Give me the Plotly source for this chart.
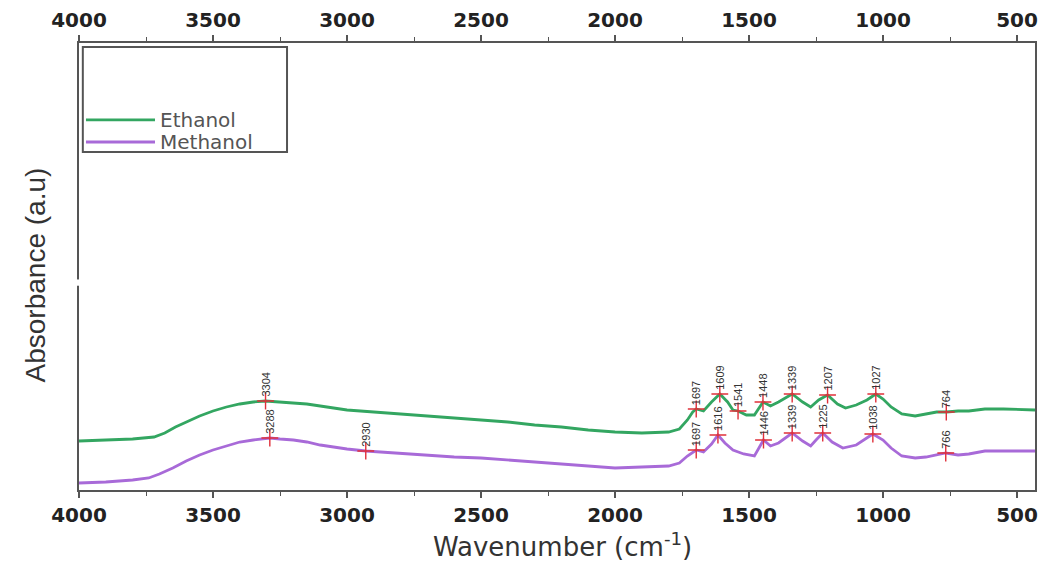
import plotly.graph_objects as go
import numpy as np

# ---- data ----
ethanol_wn = [4000, 3900, 3800, 3720, 3680, 3640, 3600, 3550, 3500, 3450, 3400, 3350, 3304, 3250, 3200,
              3150, 3100, 3050, 3000, 2950, 2900, 2800, 2700, 2600, 2500, 2400, 2300, 2200, 2100, 2000,
              1900, 1800, 1760, 1730, 1710, 1697, 1670, 1640, 1609, 1580, 1560, 1541, 1510, 1480, 1448,
              1420, 1390, 1339, 1300, 1270, 1240, 1207, 1170, 1140, 1100, 1060, 1027, 1000, 970, 930,
              880, 840, 800, 764, 720, 680, 620, 550, 480, 433]
ethanol_abs = [0.49, 0.50, 0.51, 0.53, 0.57, 0.63, 0.68, 0.74, 0.79, 0.83, 0.86, 0.88, 0.89, 0.88, 0.87,
               0.86, 0.84, 0.82, 0.80, 0.79, 0.78, 0.76, 0.74, 0.72, 0.70, 0.68, 0.65, 0.63, 0.60, 0.58,
               0.57, 0.58, 0.61, 0.70, 0.78, 0.81, 0.79, 0.88, 0.96, 0.88, 0.80, 0.79, 0.75, 0.75, 0.88,
               0.84, 0.88, 0.96, 0.88, 0.83, 0.90, 0.95, 0.86, 0.82, 0.85, 0.90, 0.96, 0.91, 0.83, 0.76,
               0.74, 0.76, 0.78, 0.78, 0.79, 0.79, 0.81, 0.81, 0.80, 0.80]

methanol_wn = [4000, 3900, 3800, 3740, 3700, 3650, 3600, 3550, 3500, 3450, 3400, 3350, 3288, 3250, 3200,
               3150, 3100, 3050, 3000, 2930, 2880, 2800, 2700, 2600, 2500, 2400, 2300, 2200, 2100, 2000,
               1900, 1800, 1760, 1730, 1697, 1670, 1640, 1616, 1590, 1560, 1520, 1480, 1446, 1420, 1390,
               1339, 1300, 1270, 1250, 1225, 1190, 1150, 1100, 1070, 1038, 1000, 970, 930, 880, 840,
               800, 766, 720, 680, 620, 550, 480, 433]
methanol_abs = [0.07, 0.08, 0.10, 0.12, 0.16, 0.22, 0.29, 0.35, 0.40, 0.44, 0.48, 0.50, 0.52, 0.51, 0.50,
                0.48, 0.45, 0.43, 0.41, 0.39, 0.38, 0.37, 0.35, 0.33, 0.32, 0.30, 0.28, 0.26, 0.24, 0.22,
                0.23, 0.24, 0.27, 0.34, 0.40, 0.38, 0.46, 0.55, 0.47, 0.40, 0.36, 0.34, 0.50, 0.44, 0.47,
                0.57, 0.49, 0.44, 0.50, 0.57, 0.48, 0.42, 0.45, 0.50, 0.56, 0.50, 0.42, 0.34, 0.32, 0.33,
                0.35, 0.37, 0.35, 0.36, 0.39, 0.39, 0.39, 0.39]

ethanol_peaks = [3304, 1697, 1609, 1541, 1448, 1339, 1207, 1027, 764]
methanol_peaks = [3288, 2930, 1697, 1616, 1446, 1339, 1225, 1038, 766]

tick_vals = [4000, 3500, 3000, 2500, 2000, 1500, 1000, 500]
series_names = ["Ethanol", "Methanol"]

ETH_COLOR = "#33a661"
MET_COLOR = "#a86ad8"
X_RANGE = [4000, 433]
Y_RANGE = [0, 4.47]

fig = go.Figure()
fig.add_trace(go.Scatter(x=ethanol_wn, y=ethanol_abs, mode="lines", name=series_names[0],
                         line=dict(color=ETH_COLOR, width=2.8)))
fig.add_trace(go.Scatter(x=methanol_wn, y=methanol_abs, mode="lines", name=series_names[1],
                         line=dict(color=MET_COLOR, width=2.8)))

# peak markers + labels
for wn_list, xs, ys in [(ethanol_peaks, ethanol_wn, ethanol_abs), (methanol_peaks, methanol_wn, methanol_abs)]:
    xp = np.array(xs[::-1], dtype=float)
    yp = np.array(ys[::-1], dtype=float)
    py = np.interp(wn_list, xp, yp)
    fig.add_trace(go.Scatter(x=wn_list, y=py, mode="markers", showlegend=False, hoverinfo="skip",
                             marker=dict(symbol="cross-thin", size=12,
                                         line=dict(color="#e0303a", width=1.4))))
    for w, yv in zip(wn_list, py):
        fig.add_annotation(x=w, y=yv, text=str(w), showarrow=False, textangle=-90,
                           yanchor="bottom", xanchor="center", yshift=2,
                           font=dict(size=11, color="#333", family="Liberation Sans"))

# invisible trace for top axis
fig.add_trace(go.Scatter(x=[4000, 433], y=[0, 0], mode="lines", xaxis="x2", showlegend=False,
                         hoverinfo="skip", line=dict(width=0), opacity=0))

axis_common = dict(
    range=X_RANGE, tickvals=tick_vals, ticks="outside", ticklen=6, tickwidth=1.5,
    tickcolor="#555", showline=True, linecolor="#555", linewidth=2, showgrid=False,
    zeroline=False, automargin=False,
    minor=dict(ticks="outside", ticklen=4, tickwidth=1.2, tickcolor="#555", dtick=250, showgrid=False),
    tickfont=dict(family="DejaVu Sans", size=20, color="#222", weight="bold"),
)

# the page body adds an 8px margin, so the figure is 8px smaller than the window
fig.update_layout(
    width=1042, height=557,
    margin=dict(l=71, r=15, t=35, b=75, autoexpand=False),
    plot_bgcolor="white", paper_bgcolor="white",
    xaxis=dict(**axis_common, side="bottom"),
    xaxis2=dict(**axis_common, side="top", overlaying="x"),
    yaxis=dict(range=Y_RANGE, showticklabels=False, ticks="", showgrid=False, zeroline=False,
               showline=True, linecolor="#555", linewidth=2, mirror=True, automargin=False),
    showlegend=False,
    shapes=[
        # legend box
        dict(type="rect", xref="paper", yref="paper", x0=0.004, x1=0.2176, y0=0.756, y1=0.991,
             line=dict(color="#555", width=2), fillcolor="rgba(0,0,0,0)"),
        # legend samples
        dict(type="line", xref="paper", yref="paper", x0=0.0073, x1=0.0795, y0=0.828, y1=0.828,
             line=dict(color=ETH_COLOR, width=2.8)),
        dict(type="line", xref="paper", yref="paper", x0=0.0073, x1=0.0795, y0=0.7785, y1=0.7785,
             line=dict(color=MET_COLOR, width=2.8)),
        # break in left axis
        dict(type="rect", xref="paper", yref="paper", x0=-0.004, x1=0.004, y0=0.457, y1=0.471,
             line=dict(width=0), fillcolor="white", layer="above"),
    ],
    annotations=list(fig.layout.annotations) + [
        dict(text=series_names[0], xref="paper", yref="paper", x=0.0826, y=0.828, xanchor="left",
             yanchor="middle", showarrow=False, font=dict(family="DejaVu Sans", size=20, color="#555")),
        dict(text=series_names[1], xref="paper", yref="paper", x=0.0826, y=0.7785, xanchor="left",
             yanchor="middle", showarrow=False, font=dict(family="DejaVu Sans", size=20, color="#555")),
        dict(text="Absorbance (a.u)", xref="paper", yref="paper", x=-0.046, y=0.48, xanchor="center",
             yanchor="middle", textangle=-90, showarrow=False,
             font=dict(family="Liberation Sans", size=28, color="#333")),
        dict(text="Wavenumber (cm<sup>-1</sup>)", xref="paper", yref="paper", x=0.506, y=-0.122,
             xanchor="center", yanchor="middle", showarrow=False,
             font=dict(family="DejaVu Sans", size=26, color="#333")),
    ],
)

fig.write_html("out.html")
